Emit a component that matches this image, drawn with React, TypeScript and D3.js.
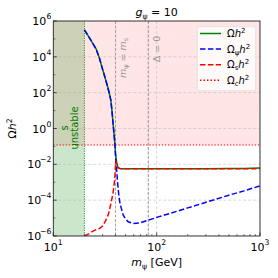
import React from "react";
import * as d3 from "d3";

const mGrid = [20, 22, 24, 26, 28, 30, 32, 34, 36, 37, 38, 39, 39.5, 40, 40.3, 40.6, 41, 42, 43, 44.2, 46, 47.5, 50, 53, 59, 69, 83, 104, 134, 200, 300, 500, 700, 1000];
const omegaPsi = [3.2e5, 1.35e5, 5.9e4, 2.7e4, 8e3, 2e3, 5.6e2, 1.6e2, 40, 9, 1.5, 0.3, 0.12, 0.03, 0.015, 0.009, 5e-3, 8e-4, 2e-4, 6.6e-5, 2.8e-5, 1.45e-5, 9e-6, 6.2e-6, 5e-6, 5.4e-6, 7.6e-6, 1.17e-5, 1.8e-5, 3.7e-5, 7.6e-5, 1.9e-4, 3.3e-4, 6.3e-4];
const omegaS = [1e-6, 1.3e-6, 1.8e-6, 2.3e-6, 2.6e-6, 3.6e-6, 7e-6, 1.5e-5, 6e-5, 1.3e-4, 3e-4, 1e-3, 2.5e-3, 8e-3, 1.6e-2, 1.2e-2, 8.5e-3, 6.5e-3, 6e-3, 5.8e-3, 5.7e-3, 5.6e-3, 5.6e-3, 5.6e-3, 5.6e-3, 5.6e-3, 5.6e-3, 5.6e-3, 5.6e-3, 5.6e-3, 5.6e-3, 5.6e-3, 5.6e-3, 5.6e-3];
const omegaTot = [3.2e5, 1.35e5, 5.9e4, 2.7e4, 8e3, 2e3, 5.6e2, 1.6e2, 40, 9, 1.5, 0.301, 0.1225, 0.038, 0.031, 0.021, 0.0135, 0.0073, 0.0062, 0.0059, 0.0057, 0.0056, 0.0056, 0.0056, 0.0056, 0.0056, 0.0056, 0.0056, 0.0056, 0.0056, 0.0057, 0.0058, 0.0059, 0.0062];
const omegaC = 0.12;
const mUnstable = 20;
const mS = 40;
const mDelta0 = 83;
const xTicks = [10, 100, 1000];
const xTickExp = ["1", "2", "3"];
const yTicks = [1e-6, 1e-4, 1e-2, 1, 1e2, 1e4, 1e6];
const yTickExp = ["\u22126", "\u22124", "\u22122", "0", "2", "4", "6"];

const L = 53.3, R = 260, T = 21, B = 236;
const FONT = "DejaVu Sans, sans-serif";

export default function App() {
  const x = d3.scaleLog().domain([10, 1000]).range([L, R]);
  const y = d3.scaleLog().domain([1e-6, 1e6]).range([B, T]);
  const line = (vals: number[]) =>
    d3.line<number>().x((_, i) => x(mGrid[i])).y((d) => y(d))(vals) || "";

  const minorX: number[] = [];
  [10, 100].forEach((b) => { for (let k = 2; k <= 9; k++) minorX.push(b * k); });
  const minorY = [1e-5, 1e-3, 1e-1, 1e1, 1e3, 1e5];

  const legendItems = [
    { color: "#008000", dash: "none", sub: "" },
    { color: "#0000ff", dash: "5.5,2.4", sub: "\u03c8" },
    { color: "#ff0000", dash: "5.5,2.4", sub: "s" },
    { color: "#ff0000", dash: "1.5,2", sub: "c" },
  ];

  return (
    <svg width={278} height={278} style={{ position: "absolute", left: 0, top: 0, background: "#fff" }} fontFamily={FONT}>
      <defs>
        <clipPath id="plot"><rect x={L} y={T} width={R - L} height={B - T} /></clipPath>
      </defs>
      <g clipPath="url(#plot)">
        <rect x={L} y={T} width={R - L} height={y(omegaC) - T} fill="#ff0000" fillOpacity={0.1} />
        <rect x={L} y={T} width={x(mUnstable) - L} height={B - T} fill="#008000" fillOpacity={0.2} />
        {yTicks.map((t) => (
          <line key={"gy" + t} x1={L} x2={R} y1={y(t)} y2={y(t)} stroke="#b0b0b0" strokeWidth={0.8} strokeDasharray="3,2" opacity={0.6} />
        ))}
        {xTicks.map((t) => (
          <line key={"gx" + t} x1={x(t)} x2={x(t)} y1={T} y2={B} stroke="#b0b0b0" strokeWidth={0.8} strokeDasharray="3,2" opacity={0.6} />
        ))}
        <line x1={x(mUnstable)} x2={x(mUnstable)} y1={T} y2={B} stroke="#2ca02c" strokeWidth={1} strokeDasharray="1.2,1.2" />
        <line x1={x(mS)} x2={x(mS)} y1={T} y2={B} stroke="#999" strokeWidth={0.9} strokeDasharray="3,1.5" />
        <line x1={x(mDelta0)} x2={x(mDelta0)} y1={T} y2={B} stroke="#888" strokeWidth={0.9} strokeDasharray="3,1.5" />
        <line x1={L} x2={R} y1={y(omegaC)} y2={y(omegaC)} stroke="#ff0000" strokeWidth={1.2} strokeDasharray="1.3,1.8" />
        <path d={line(omegaTot)} fill="none" stroke="#008000" strokeWidth={1.5} />
        <path d={line(omegaPsi)} fill="none" stroke="#0000ff" strokeWidth={1.5} strokeDasharray="5.5,2.4" />
        <path d={line(omegaS)} fill="none" stroke="#ff0000" strokeWidth={1.5} strokeDasharray="5.5,2.4" />
      </g>
      {/* annotations */}
      <text transform={`translate(${(x(mUnstable) + L) / 2 + 1},128) rotate(-90)`} fill="#008000" fontSize={10} textAnchor="middle">
        <tspan x={0} dy={-2}>s</tspan>
        <tspan x={0} dy={10}>unstable</tspan>
      </text>
      <text transform={`translate(${x(mS) + 10},58) rotate(-90)`} fill="#999" fontSize={9.5} textAnchor="middle">
        <tspan fontStyle="italic">m</tspan><tspan fontSize={6.5} dy={2}>{"\u03c8"}</tspan><tspan dy={-2}> = </tspan><tspan fontStyle="italic">m</tspan><tspan fontSize={6.5} dy={2}>s</tspan>
      </text>
      <text transform={`translate(${x(mDelta0) + 12},49) rotate(-90)`} fill="#999" fontSize={9.5} textAnchor="middle">
        {"\u0394 = 0"}
      </text>
      {/* frame */}
      <rect x={L} y={T} width={R - L} height={B - T} fill="none" stroke="#222" strokeWidth={0.9} />
      {/* x ticks */}
      {xTicks.map((t, i) => (
        <g key={"xt" + t}>
          <line x1={x(t)} x2={x(t)} y1={B} y2={B - 3.5} stroke="#222" strokeWidth={0.8} />
          <text x={x(t) - 2.5} y={251} fontSize={11} textAnchor="middle">10</text>
          <text x={x(t) + 7} y={245} fontSize={7.7} textAnchor="middle">{xTickExp[i]}</text>
        </g>
      ))}
      {minorX.map((t) => (
        <line key={"mx" + t} x1={x(t)} x2={x(t)} y1={B} y2={B - 2} stroke="#222" strokeWidth={0.6} />
      ))}
      {/* y ticks */}
      {yTicks.map((t, i) => (
        <g key={"yt" + t}>
          <line x1={L} x2={L + 3.5} y1={y(t)} y2={y(t)} stroke="#222" strokeWidth={0.8} />
          <text x={L - (yTickExp[i].length > 1 ? 12 : 7)} y={y(t) + 4} fontSize={11} textAnchor="end">10</text>
          <text x={L - 2} y={y(t) - 2} fontSize={7.7} textAnchor="end">{yTickExp[i]}</text>
        </g>
      ))}
      {minorY.map((t) => (
        <line key={"my" + t} x1={L} x2={L + 2} y1={y(t)} y2={y(t)} stroke="#222" strokeWidth={0.6} />
      ))}
      {/* labels */}
      <text x={(L + R) / 2} y={266} fontSize={11} textAnchor="middle">
        <tspan fontStyle="italic">m</tspan><tspan fontSize={7.7} dy={2.5}>{"\u03c8"}</tspan><tspan dy={-2.5}> [GeV]</tspan>
      </text>
      <text x={(L + R) / 2} y={16} fontSize={11} textAnchor="middle">
        <tspan fontStyle="italic">g</tspan><tspan fontSize={7.7} dy={2.5}>{"\u03c8"}</tspan><tspan dy={-2.5}> = 10</tspan>
      </text>
      <text transform={`translate(16,${(T + B) / 2}) rotate(-90)`} fontSize={11} textAnchor="middle">
        {"\u03a9"}<tspan fontStyle="italic">h</tspan><tspan fontSize={7.7} dy={-4}>2</tspan>
      </text>
      {/* legend */}
      <rect x={197.3} y={26.7} width={58.4} height={64} rx={2} fill="#fff" fillOpacity={0.8} stroke="#ddd" strokeWidth={0.8} />
      {legendItems.map((it, i) => {
        const yy = 33.5 + i * 15.6;
        return (
          <g key={"lg" + i}>
            <line x1={200} x2={221} y1={yy} y2={yy} stroke={it.color} strokeWidth={1.5} strokeDasharray={it.dash} />
            <text x={227} y={yy + 3.5} fontSize={10}>
              {"\u03a9"}
              {it.sub ? <tspan fontSize={7} dy={2}>{it.sub}</tspan> : null}
              <tspan fontStyle="italic" dy={it.sub ? -2 : 0}>h</tspan>
              <tspan fontSize={7} dy={-4}>2</tspan>
            </text>
          </g>
        );
      })}
    </svg>
  );
}
